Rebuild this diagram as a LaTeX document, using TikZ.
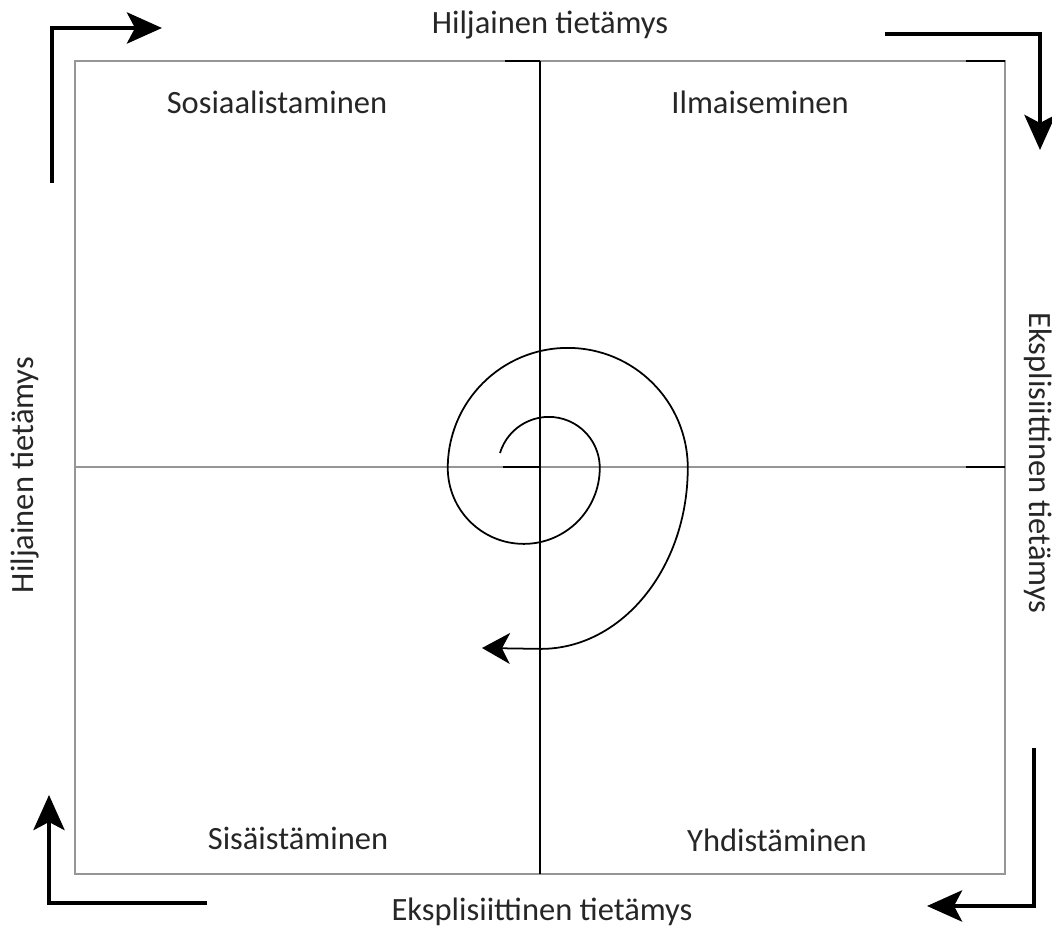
\documentclass[tikz,border=0pt]{standalone}
\usepackage{fontspec}
\setmainfont{Carlito}
\usetikzlibrary{arrows.meta,positioning}
\definecolor{frame}{RGB}{150,150,150}
\definecolor{ink}{RGB}{38,38,38}

\begin{document}
\begin{tikzpicture}[
  x=0.02cm, y=0.02cm,
  every node/.style={font=\fontsize{18.5}{22}\selectfont, text=ink},
  flowarrow/.style={line width=2.8pt, line join=miter,
               -{Stealth[length=0.7cm, width=0.62cm, inset=0.16cm]}},
  spiral/.style={line width=1pt,
               -{Stealth[length=0.56cm, width=0.62cm, inset=0.16cm]}},
  >=Stealth
]
\useasboundingbox (0,0) rectangle (1052,928);

% frame and quadrants
\draw[frame, line width=0.9pt] (75,54) rectangle (1005,867);
\draw[frame, line width=0.9pt] (75,461) -- (1005,461);
\draw[black, line width=0.9pt] (540,54) -- (540,867);
\draw[black, line width=0.9pt] (505,867) -- (540,867);
\draw[black, line width=0.9pt] (966,867) -- (1005,867);
\draw[black, line width=0.9pt] (503,461) -- (540,461);
\draw[black, line width=0.9pt] (966,461) -- (1005,461);

% quadrant labels
\node (sos) at (277,826) {Sosiaalistaminen};
\node (ilm) at (760,826) {Ilmaiseminen};
\node (sis) at (298,90) {Sisäistäminen};
\node (yhd) at (777,88) {Yhdistäminen};

% side labels
\node (top) at (550,903) {Hiljainen tietämys};
\node (bot) at (542,16) {Eksplisiittinen tietämys};
\node[rotate=90] (lft) at (25,453) {Hiljainen tietämys};
\node[rotate=-90] (rgt) at (1038,465) {Eksplisiittinen tietämys};

% corner arrows
\coordinate (tl1) at (52,745);
\coordinate (tl2) at (162,900);
\coordinate (tr1) at (885,894);
\coordinate (tr2) at (1040,778);
\coordinate (bl1) at (207,25);
\coordinate (bl2) at (49,133);
\coordinate (br1) at (1034,180);
\coordinate (br2) at (927,22);
\draw[flowarrow] (tl1) |- (tl2);
\draw[flowarrow] (tr1) -| (tr2);
\draw[flowarrow] (bl1) -| (bl2);
\draw[flowarrow] (br1) |- (br2);

% spiral
\coordinate (sp0) at (500,475);
\coordinate (sp1) at (482,280);
\draw[spiral] (sp0) arc[start angle=163, end angle=0, radius=51]
  arc[start angle=0, end angle=-180, radius=76]
  arc[start angle=180, end angle=0, radius=120]
  arc[start angle=0, end angle=-90, x radius=147, y radius=181]
  -- (sp1);

\end{tikzpicture}
\end{document}
